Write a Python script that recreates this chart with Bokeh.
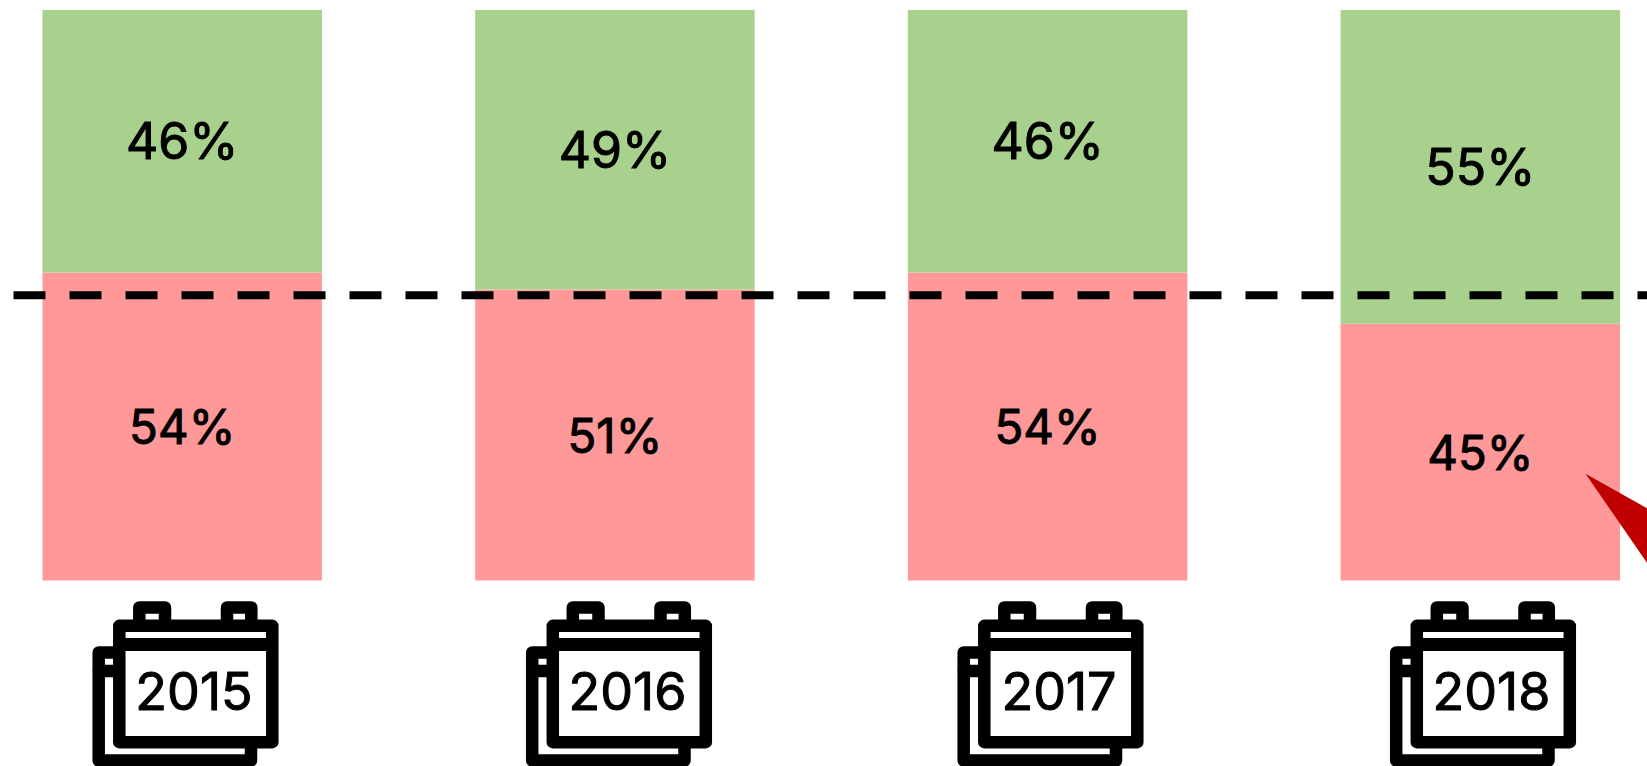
from bokeh.plotting import figure
from bokeh.models import Range1d
from bokeh.core.properties import value
from bokeh.embed import file_html
from bokeh.resources import INLINE

years = [2015, 2016, 2017, 2018]
red_pct = [54, 51, 54, 45]
green_pct = [46, 49, 46, 55]
threshold = 50
GREEN = "#A9D18E"
RED = "#FF9999"
ARROW = "#C00000"
FONT = "Inter"

W, H = 1647, 766
PX_PER_YEAR = 432.7
PX_PER_PCT = 5.705
BAR_W = 279.5 / PX_PER_YEAR
CX0, Y0 = 181.7, 580.0  # window px of first bar centre and of 0 %

x_start = 2015 - CX0 / PX_PER_YEAR
y_start = -(H - Y0) / PX_PER_PCT


def X(px):
    return x_start + px / PX_PER_YEAR


def Y(py):
    return (Y0 - py) / PX_PER_PCT


p = figure(width=W, height=H, output_backend="svg", toolbar_location=None,
           x_range=Range1d(x_start, x_start + W / PX_PER_YEAR),
           y_range=Range1d(y_start, y_start + H / PX_PER_PCT),
           min_border=0, outline_line_color=None, background_fill_color="white")
p.axis.visible = False
p.grid.visible = False

p.vbar(x=years, width=BAR_W, bottom=0, top=red_pct, fill_color=RED, line_color=None)
p.vbar(x=years, width=BAR_W, bottom=red_pct, top=[r + g for r, g in zip(red_pct, green_pct)],
       fill_color=GREEN, line_color=None)

p.line([X(13), X(1647)], [threshold, threshold], line_color="black", line_width=8,
       line_dash="32 24")

p.text(x=years, y=[r + g / 2 for r, g in zip(red_pct, green_pct)], text=[f"{g}%" for g in green_pct],
       text_font=value(FONT), text_font_size="50px", text_color="black", text_outline_color="black",
       text_align="center", text_baseline="middle")
p.text(x=years, y=[r / 2 for r in red_pct], text=[f"{r}%" for r in red_pct],
       text_font=value(FONT), text_font_size="47.5px", text_color="black", text_outline_color="black",
       text_align="center", text_baseline="middle")

# red pointer running off the right edge
p.patch([X(1585.0), X(1647), X(1647)], [Y(473.3), Y(508), Y(563)], fill_color=ARROW, line_color=None)

# calendar icons, window px relative to the 2015 icon
icon_dx = [-0.5, 433, 864.5, 1297]
for yr, d in zip(years, icon_dx):
    sw = 12.5
    style = dict(line_color="black", line_width=sw, line_join="round", line_cap="round")
    # back sheet
    p.line([X(119 + d), X(98.7 + d), X(98.7 + d), X(251 + d), X(251 + d)],
           [Y(652), Y(652), Y(760), Y(760), Y(742)], **style)
    p.line([X(99 + d), X(119 + d)], [Y(670.5), Y(670.5)], **style)
    # binding tabs
    for a, b in ((139.3, 165), (227, 251.3)):
        p.line([X(a + d), X(a + d), X(b + d), X(b + d)], [Y(625), Y(607), Y(607), Y(625)], **style)
    # front sheet
    p.quad(left=X(119.3 + d), right=X(272.3 + d), top=Y(625.3), bottom=Y(741.7),
           fill_color="white", **{k: v for k, v in style.items() if k != "line_cap"})
    p.line([X(119.3 + d), X(272.3 + d)], [Y(644), Y(644)], line_color="black", line_width=13)
    p.text(x=[X(194 + d)], y=[Y(690)], text=[str(yr)], text_font=value(FONT),
           text_font_size="52px", text_color="black", text_outline_color="black",
           text_align="center", text_baseline="middle")

open("out.html", "w").write(file_html(p, INLINE))
